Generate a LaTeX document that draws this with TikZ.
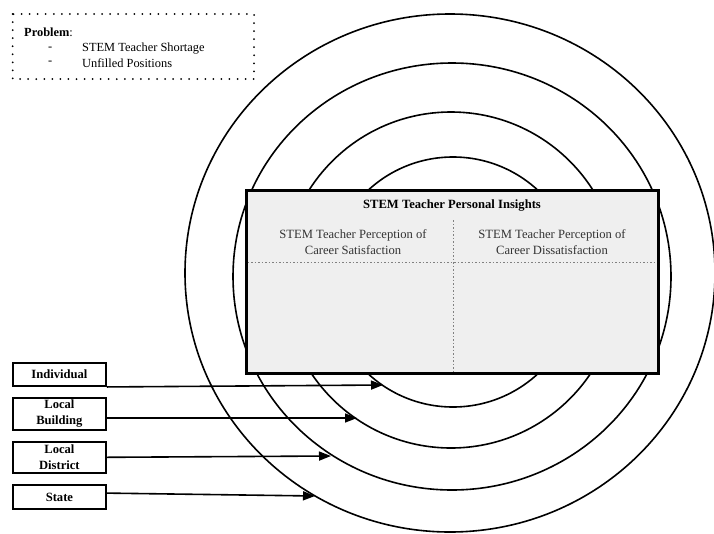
\documentclass[tikz,border=0pt]{standalone}
\usepackage{fontspec}
\setmainfont{Liberation Serif}
\usetikzlibrary{arrows.meta}
\definecolor{panelgray}{HTML}{EFEFEF}
\definecolor{subtext}{HTML}{333333}
\begin{document}
\begin{tikzpicture}[x=1pt,y=-1pt,
  ring/.style={line width=1.6pt},
  lvlbox/.style={draw,line width=1.8pt,minimum width=93pt,inner sep=0pt,align=center,
    font=\fontsize{12.6}{16}\selectfont\bfseries},
  link/.style={line width=1.6pt,-{Triangle[length=12pt,width=9pt]}},
  divider/.style={line width=0.8pt,gray,dash pattern=on 1.5pt off 2pt},
  subhead/.style={align=center,text=subtext,font=\fontsize{12.6}{16}\selectfont},
  bodytext/.style={anchor=west,inner sep=0pt,font=\fontsize{12.4}{15}\selectfont}]
\useasboundingbox (0,0) rectangle (714,533);
\fill[white] (0,0) rectangle (714,533);

% problem statement in a dotted frame
\draw[line width=2pt,line cap=round,dash pattern=on 0pt off 8.05pt]
  (12.7,14) rectangle (254,79);
\node[bodytext] (prob) at (24,32) {\textbf{Problem}:};
\node[bodytext] (d1) at (48,49) {-};
\node[bodytext] (d2) at (48,63) {-};
\node[bodytext] (p1) at (82,49) {STEM Teacher Shortage};
\node[bodytext] (p2) at (82,63) {Unfilled Positions};

% concentric levels of influence
\draw[ring] (450,273) ellipse [x radius=265, y radius=259];
\draw[ring] (452,276.5) ellipse [x radius=219, y radius=213.5];
\draw[ring] (451,280) circle [radius=168];
\draw[ring] (453,282) circle [radius=125];

% central panel
\draw[line width=3pt,fill=panelgray] (246,190) rectangle (658,373);
\coordinate (vtop) at (453,220);
\coordinate (vbot) at (453,373);
\coordinate (hl) at (247.5,262);
\coordinate (hr) at (656.5,262);
\draw[divider] (vtop) -- (vbot);
\draw[divider] (hl) -- (hr);
\node[font=\fontsize{12.6}{16}\selectfont\bfseries] (title) at (452,206) {STEM Teacher Personal Insights};
\node[subhead] (sat) at (353,242.5) {STEM Teacher Perception of\\Career Satisfaction};
\node[subhead] (dis) at (552,242.5) {STEM Teacher Perception of\\Career Dissatisfaction};

% levels
\node[lvlbox,minimum height=23.3pt] (ind) at (59.4,374.4) {Individual};
\node[lvlbox,minimum height=32pt] (lb) at (59.4,414) {Local\\Building};
\node[lvlbox,minimum height=31.3pt] (ld) at (59.4,457.3) {Local\\District};
\node[lvlbox,minimum height=24.3pt] (st) at (59.4,497.1) {State};

% arrows ending on the matching ring
\coordinate (t1) at (383,385);
\coordinate (t2) at (357,418);
\coordinate (t3) at (331,456);
\coordinate (t4) at (315,496);
\draw[link] (ind.south east) -- (t1);
\draw[link] ([yshift=-4pt]lb.east) -- (t2);
\draw[link] (ld.east) -- (t3);
\draw[link] ([yshift=4pt]st.east) -- (t4);
\end{tikzpicture}
\end{document}
